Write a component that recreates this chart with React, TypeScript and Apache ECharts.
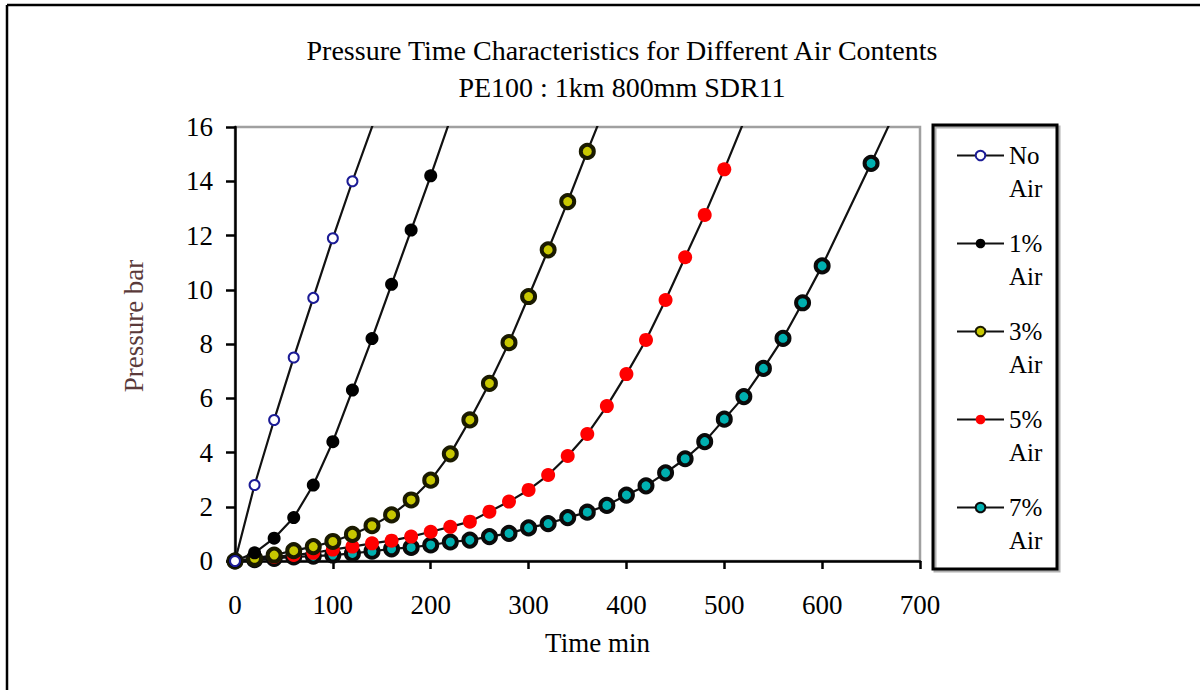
import React, { useEffect, useRef } from "react";
import * as echarts from "echarts";

const FONT = "Liberation Serif";

const titleLine1 = "Pressure Time Characteristics for Different Air Contents";
const titleLine2 = "PE100 : 1km 800mm SDR11";
const xName = "Time min";
const yName = "Pressure bar";

const seriesNames = ["No Air", "1% Air", "3% Air", "5% Air", "7% Air"];

const noAirTime = [0, 20, 40, 60, 80, 100, 120];
const noAirVal = [0, 2.8, 5.2, 7.5, 9.7, 11.9, 14.0];
const noAirEnd = [145, 16.5];

const air1Time = [0, 20, 40, 60, 80, 100, 120, 140, 160, 180, 200];
const air1Val = [0, 0.3, 0.84, 1.6, 2.8, 4.4, 6.3, 8.2, 10.2, 12.2, 14.2];
const air1End = [225, 16.8];

const air3Time = [0, 20, 40, 60, 80, 100, 120, 140, 160, 180, 200, 220, 240, 260, 280, 300, 320, 340, 360];
const air3Val = [0, 0.1, 0.22, 0.38, 0.53, 0.72, 0.98, 1.3, 1.7, 2.25, 2.98, 3.95, 5.2, 6.55, 8.05, 9.75, 11.47, 13.25, 15.1];
const air3End = [380, 16.9];

const air5Time = [0, 20, 40, 60, 80, 100, 120, 140, 160, 180, 200, 220, 240, 260, 280, 300, 320, 340, 360, 380, 400, 420, 440, 460, 480, 500];
const air5Val = [0, 0.08, 0.15, 0.22, 0.3, 0.42, 0.53, 0.65, 0.75, 0.9, 1.08, 1.26, 1.45, 1.82, 2.19, 2.62, 3.17, 3.87, 4.68, 5.71, 6.89, 8.15, 9.62, 11.2, 12.76, 14.44];
const air5End = [520, 16.2];

const air7Time = [0, 20, 40, 60, 80, 100, 120, 140, 160, 180, 200, 220, 240, 260, 280, 300, 320, 340, 360, 380, 400, 420, 440, 460, 480, 500, 520, 540, 560, 580, 600, 650];
const air7Val = [0, 0.05, 0.1, 0.15, 0.18, 0.22, 0.28, 0.36, 0.45, 0.5, 0.59, 0.7, 0.77, 0.9, 1.02, 1.22, 1.38, 1.6, 1.8, 2.05, 2.43, 2.77, 3.25, 3.77, 4.4, 5.23, 6.06, 7.1, 8.21, 9.52, 10.88, 14.66];
const air7End = [670, 16.2];

const xTicks = { min: 0, max: 700, interval: 100 };
const yTicks = { min: 0, max: 16, interval: 2 };

function makeSeries(
  name: string,
  t: number[],
  v: number[],
  end: number[],
  symbol: string,
  symbolSize: number,
  itemStyle: any,
  z: number
) {
  const data: any[] = t.map((x, i) => [x, v[i]]);
  data.push({ value: end, symbol: "none" });
  return {
    type: "line",
    name,
    data,
    symbol,
    symbolSize,
    showAllSymbol: true,
    itemStyle,
    lineStyle: { color: "#111", width: 2.2 },
    clip: true,
    z,
    emphasis: { disabled: true },
  };
}

export default function App() {
  const ref = useRef<HTMLDivElement>(null);
  useEffect(() => {
    if (!ref.current) return;
    const chart = echarts.init(ref.current, undefined, { renderer: "svg" });
    const txt = { fontFamily: FONT, color: "#000", fontWeight: "normal" as const };
    const option: any = {
      animation: false,
      backgroundColor: "#fff",
      title: {
        text: titleLine1,
        subtext: titleLine2,
        left: 622,
        textAlign: "center",
        top: 35,
        padding: 0,
        itemGap: 7,
        textStyle: { ...txt, fontSize: 28, lineHeight: 30 },
        subtextStyle: { ...txt, fontSize: 28, lineHeight: 30 },
      },
      grid: {
        left: 235,
        right: 280,
        top: 127,
        bottom: 129,
        show: true,
        borderColor: "#a0a0a0",
        borderWidth: 2.5,
        backgroundColor: "transparent",
      },
      xAxis: {
        type: "value",
        ...xTicks,
        axisLine: { onZero: false, lineStyle: { color: "#000", width: 2.5 } },
        axisTick: { length: 8, lineStyle: { color: "#000", width: 2.5 } },
        axisLabel: { ...txt, fontSize: 27, margin: 30 },
        splitLine: { show: false },
        name: xName,
        nameLocation: "middle",
        nameGap: 68,
        nameTextStyle: { ...txt, fontSize: 27, padding: [0, 0, 0, 40] },
      },
      yAxis: {
        type: "value",
        ...yTicks,
        axisLine: { onZero: false, lineStyle: { color: "#000", width: 2.5 } },
        axisTick: { length: 9, lineStyle: { color: "#000", width: 2.5 } },
        axisLabel: { ...txt, fontSize: 27, margin: 22 },
        splitLine: { show: false },
        name: yName,
        nameLocation: "middle",
        nameGap: 88,
        nameTextStyle: { ...txt, color: "#5a3a3a", fontSize: 27, padding: [0, 0, 0, 36] },
      },
      legend: {
        data: seriesNames,
        orient: "vertical",
        left: 956,
        top: 106,
        padding: 0,
        itemGap: -11,
        itemWidth: 47,
        itemHeight: 12,
        selectedMode: false,
        formatter: (n: string) => "\n" + n.replace(" ", "\n"),
        textStyle: { ...txt, fontSize: 25, lineHeight: 33 },
      },
      series: [
        makeSeries(seriesNames[0], noAirTime, noAirVal, noAirEnd, "emptyCircle", 10, { color: "#1c1c96", borderWidth: 2 }, 5),
        makeSeries(seriesNames[1], air1Time, air1Val, air1End, "circle", 13, { color: "#000" }, 4),
        makeSeries(seriesNames[2], air3Time, air3Val, air3End, "circle", 13, { color: "#c8c800", borderColor: "#1a1a00", borderWidth: 4 }, 3),
        makeSeries(seriesNames[3], air5Time, air5Val, air5End, "circle", 14, { color: "#ff0000" }, 2),
        makeSeries(seriesNames[4], air7Time, air7Val, air7End, "circle", 13, { color: "#00b0b0", borderColor: "#0a0a0a", borderWidth: 4 }, 1),
      ],
      graphic: [
        {
          type: "line",
          shape: { x1: 7, y1: 5, x2: 1200, y2: 5 },
          style: { stroke: "#000", lineWidth: 2.5 },
        },
        {
          type: "line",
          shape: { x1: 7, y1: 5, x2: 7, y2: 690 },
          style: { stroke: "#000", lineWidth: 2.5 },
        },
        {
          type: "rect",
          shape: { x: 935, y: 127, width: 124, height: 444 },
          style: { fill: "none", stroke: "#b0b0b0", lineWidth: 3 },
          z: 0,
        },
        {
          type: "rect",
          shape: { x: 933, y: 125, width: 124, height: 444 },
          style: { fill: "none", stroke: "#000", lineWidth: 3 },
          z: 1,
        },
      ],
    };
    chart.setOption(option);
    return () => chart.dispose();
  }, []);
  return (
    <div
      ref={ref}
      style={{ position: "fixed", left: 0, top: 0, width: 1200, height: 690 }}
    />
  );
}
